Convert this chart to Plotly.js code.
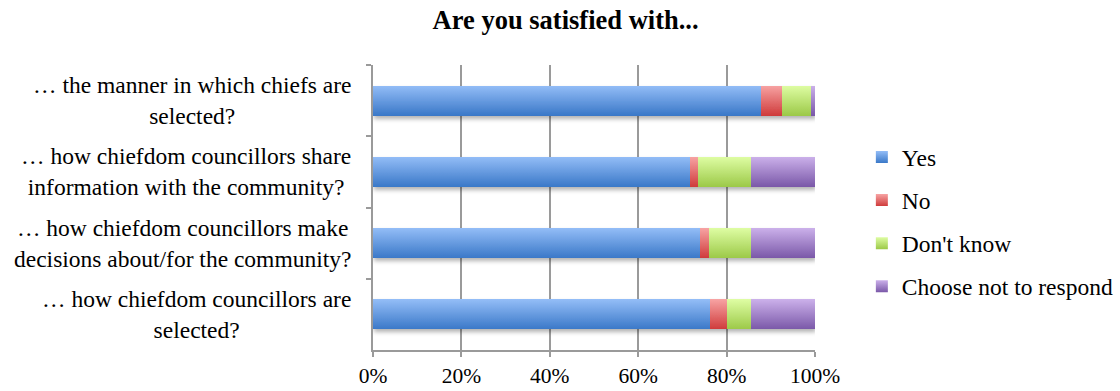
<!DOCTYPE html>
<html>
<head>
<meta charset="utf-8">
<script src="https://cdn.plot.ly/plotly-3.0.1.min.js"></script>
<style>html,body{margin:0;padding:0;background:#fff;}#chart{width:1120px;height:391px;}</style>
</head>
<body>
<div id="chart"></div>
<script>
const categories = [
  "… the manner in which chiefs are<br>selected?",
  "… how chiefdom councillors share<br>information with the community?",
  "… how chiefdom councillors make<br>decisions about/for the community?",
  "… how chiefdom councillors are<br>selected?"
];
const yes = [87.7, 71.8, 73.9, 76.2];
const no = [4.9, 1.8, 2.2, 3.8];
const dontKnow = [6.4, 12.0, 9.5, 5.6];
const noResponse = [1.0, 14.4, 14.4, 14.4];
const seriesNames = ["Yes", "No", "Don't know", "Choose not to respond"];
const xTickVals = [0, 20, 40, 60, 80, 100];
const xTickText = ["0%", "20%", "40%", "60%", "80%", "100%"];

const seriesValues = [yes, no, dontKnow, noResponse];
const solid = ["#6399e0", "#e26666", "#bde078", "#a384cc"];
const gradTop = ["#93bdf7", "#f7a3a3", "#defda3", "#cbb0ea"];
const gradBot = ["#3a78c8", "#cf3b3b", "#9cc948", "#7a58a8"];

const font = "'Liberation Serif', 'Times New Roman', serif";

const traces = seriesValues.map((vals, i) => ({
  type: "bar",
  orientation: "h",
  name: seriesNames[i],
  y: categories,
  x: vals,
  legendgroup: "g" + i,
  marker: {color: solid[i], line: {width: 0}},
  hoverinfo: "x+name"
}));

const annotations = categories.map(c => ({
  xref: "paper", yref: "y",
  x: -0.045, y: c,
  xanchor: "right", yanchor: "middle",
  align: "center",
  text: c,
  showarrow: false,
  font: {family: font, size: 23.5, color: "#000"}
}));

const layout = {
  width: 1120, height: 391,
  margin: {l: 373, r: 305, t: 65, b: 41, autoexpand: false},
  paper_bgcolor: "#fff",
  plot_bgcolor: "#fff",
  barmode: "stack",
  bargap: 0.58,
  font: {family: font, size: 20, color: "#000"},
  title: {
    text: "<b>Are you satisfied with...</b>",
    x: 0.505, xanchor: "center",
    y: 0.949, yanchor: "middle", yref: "container",
    font: {family: font, size: 26.5, color: "#000"}
  },
  xaxis: {
    range: [0, 100],
    tickvals: xTickVals,
    ticktext: xTickText,
    showgrid: true,
    gridcolor: "#9a9a9a",
    gridwidth: 2,
    zeroline: false,
    showline: true,
    linecolor: "#9a9a9a",
    linewidth: 2,
    ticks: "outside",
    ticklen: 5,
    tickwidth: 2,
    tickcolor: "#9a9a9a",
    tickfont: {family: font, size: 21.5, color: "#000"},
    automargin: false,
    fixedrange: true
  },
  yaxis: {
    type: "category",
    autorange: "reversed",
    showticklabels: false,
    showline: true,
    linecolor: "#9a9a9a",
    linewidth: 2,
    ticks: "outside",
    tickson: "boundaries",
    ticklen: 5,
    tickwidth: 2,
    tickcolor: "#9a9a9a",
    showgrid: false,
    zeroline: false,
    automargin: false,
    fixedrange: true
  },
  legend: {
    x: 1.106, xanchor: "left",
    y: 0.45, yanchor: "middle",
    traceorder: "grouped",
    tracegroupgap: 9.5,
    font: {family: font, size: 23.5, color: "#000"},
    bgcolor: "rgba(0,0,0,0)"
  },
  annotations: annotations,
  showlegend: true
};

Plotly.newPlot("chart", traces, layout, {displayModeBar: false, staticPlot: true}).then(gd => {
  const NS = "http://www.w3.org/2000/svg";
  const svg = gd.querySelector(".main-svg");
  let defs = svg.querySelector("defs");
  if (!defs) { defs = document.createElementNS(NS, "defs"); svg.insertBefore(defs, svg.firstChild); }
  for (let i = 0; i < 4; i++) {
    const g = document.createElementNS(NS, "linearGradient");
    g.setAttribute("id", "barGrad" + i);
    g.setAttribute("x1", "0"); g.setAttribute("y1", "0");
    g.setAttribute("x2", "0"); g.setAttribute("y2", "1");
    const s1 = document.createElementNS(NS, "stop");
    s1.setAttribute("offset", "0"); s1.setAttribute("stop-color", gradTop[i]);
    const s2 = document.createElementNS(NS, "stop");
    s2.setAttribute("offset", "1"); s2.setAttribute("stop-color", gradBot[i]);
    g.appendChild(s1); g.appendChild(s2);
    defs.appendChild(g);
  }
  const f = document.createElementNS(NS, "filter");
  f.setAttribute("id", "barShadow");
  f.setAttribute("x", "-5%"); f.setAttribute("y", "-20%");
  f.setAttribute("width", "110%"); f.setAttribute("height", "160%");
  const ds = document.createElementNS(NS, "feDropShadow");
  ds.setAttribute("dx", "1"); ds.setAttribute("dy", "3");
  ds.setAttribute("stdDeviation", "2");
  ds.setAttribute("flood-color", "#000");
  ds.setAttribute("flood-opacity", "0.3");
  f.appendChild(ds);
  defs.appendChild(f);

  const barTraces = gd.querySelectorAll(".barlayer .trace");
  barTraces.forEach((t, i) => {
    t.querySelectorAll("path").forEach(p => { p.style.fill = "url(#barGrad" + i + ")"; });
  });
  const bl = gd.querySelector(".barlayer");
  if (bl) bl.setAttribute("filter", "url(#barShadow)");
  const legTraces = gd.querySelectorAll(".legend .traces");
  legTraces.forEach((t, i) => {
    t.querySelectorAll(".legendpoints path").forEach(p => { p.style.fill = "url(#barGrad" + i + ")"; });
  });
});
</script>
</body>
</html>
